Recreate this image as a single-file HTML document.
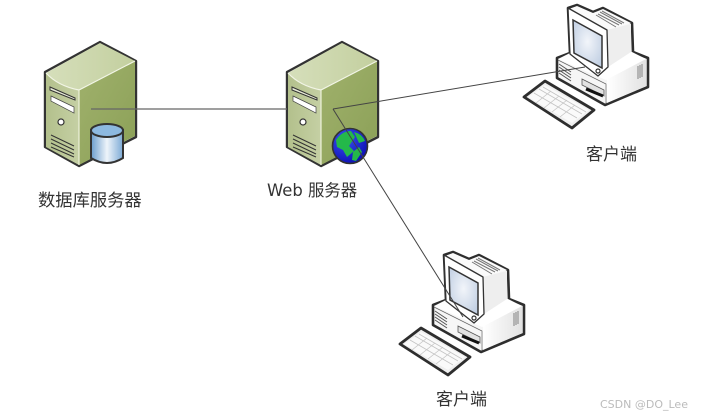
<!DOCTYPE html>
<html><head><meta charset="utf-8"><style>
html,body{margin:0;padding:0;background:#fff;width:703px;height:417px;overflow:hidden}
svg{display:block}
text{font-family:"DejaVu Sans","WenQuanYi Zen Hei","Noto Sans CJK SC",sans-serif;fill:#333}
</style></head><body>
<svg width="703" height="417" viewBox="0 0 703 417" xmlns="http://www.w3.org/2000/svg">
<defs>
<linearGradient id="sf" x1="0" y1="0" x2="1" y2="0"><stop offset="0" stop-color="#b3c08c"/><stop offset="1" stop-color="#c5d0a4"/></linearGradient>
<linearGradient id="ss" x1="0" y1="0" x2="1" y2="1"><stop offset="0" stop-color="#a0b16c"/><stop offset="1" stop-color="#8ba057"/></linearGradient>
<linearGradient id="st" x1="0" y1="0" x2="1" y2="0"><stop offset="0" stop-color="#d6dfbb"/><stop offset="1" stop-color="#c3cf9f"/></linearGradient>
<linearGradient id="db" x1="0" y1="0" x2="1" y2="0"><stop offset="0" stop-color="#6a9dcd"/><stop offset=".5" stop-color="#eef4fa"/><stop offset="1" stop-color="#7ba9d5"/></linearGradient>
<radialGradient id="scr" cx=".5" cy=".45" r=".7"><stop offset="0" stop-color="#f2f5fa"/><stop offset="1" stop-color="#bccbe0"/></radialGradient>
<linearGradient id="base" x1="0" y1="0" x2="1" y2="0"><stop offset="0" stop-color="#fff"/><stop offset="1" stop-color="#e2e2e2"/></linearGradient>
<radialGradient id="globe" cx=".35" cy=".3" r=".8"><stop offset="0" stop-color="#3a50f0"/><stop offset="1" stop-color="#0a0ab0"/></radialGradient>
<g id="server">
<path d="M45 72L100 42L136 61L136 137L79 166L45 147Z" fill="#fff" stroke="#333" stroke-width="2.4" stroke-linejoin="round"/>
<path d="M46 73L100 43L135 61L79 90Q58 86 46 73Z" fill="url(#st)"/>
<path d="M79 90L135 61V136L79 165Z" fill="url(#ss)"/>
<path d="M46 73Q58 86 79 90V165L46 147Z" fill="url(#sf)"/>
<path d="M46 73Q58 86 79 90L135 61" fill="none" stroke="#f2f5e6" stroke-width="1.2"/>
<path d="M79 90V165" stroke="#eef2dc" stroke-width="1.2"/>
<path d="M50 87L75 98V100L50 90Z" fill="#e8ecd8" stroke="#333" stroke-width="1"/>
<path d="M51 96L74 107V113L51 101Z" fill="#fff" stroke="#444" stroke-width=".7"/>
<circle cx="61" cy="122" r="3" fill="#fff" stroke="#333" stroke-width="1.2"/>
<path d="M51 135L74 146M51 139L74 150M51 143L74 154M51 147L74 157" stroke="#333" stroke-width="1" fill="none"/>
</g>
<g id="pc">
<path d="M568 8L577 5L593 12L603 8L632 23L633 52L648 58V87L605 105L557 78V58L570 53Z" fill="#f6f6f6" stroke="#2e2e2e" stroke-width="2.6" stroke-linejoin="round"/>
<path d="M607 103V76L646 59V86Z" fill="url(#base)"/>
<path d="M558 59L606 80L646 59L632 52L570 53Z" fill="#fff"/>
<path d="M607 30L631 24V52L608 67Z" fill="#eee"/>
<path d="M569 9L577 6L593 13L603 9L631 23L607 30Z" fill="#fafafa"/>
<path d="M568 8L607 30L608 67L598 76L570 54Z" fill="#fff" stroke="#333" stroke-width="1.3" stroke-linejoin="round"/>
<path d="M573 20L602 36V68L574 53Z" fill="url(#scr)" stroke="#333" stroke-width="1.5"/>
<path d="M600 12L622 24M598 14L619 25M596 15L616 27M602 11L624 23" stroke="#777" stroke-width="1" fill="none"/>
<circle cx="598" cy="71" r="2" fill="#fff" stroke="#333" stroke-width="1.2"/>
<path d="M559 64L571 72M559 67L571 75M559 70L571 78M559 73L571 81" stroke="#555" stroke-width="1"/>
<path d="M558 60L606 84V104" fill="none" stroke="#666" stroke-width=".7"/>
<path d="M582 79L604 90V96L582 85Z" fill="#e2e2e2" stroke="#555" stroke-width=".8"/>
<path d="M586 89L603 96" stroke="#111" stroke-width="3"/>
<path d="M638 66V79M640 65V78M642 64V77" stroke="#999" stroke-width="1.3"/>
<path d="M524 97L545 81L594 110L572 128Z" fill="#efefef" stroke="#2e2e2e" stroke-width="2.8" stroke-linejoin="round"/>
<path d="M528 97L545 85L589 110L572 123Z" fill="#fafafa"/>
<path d="M534 93L577 118M539 89L582 114M543 87L586 112M536 103L551 91M544 108L559 96M552 112L567 100M560 117L575 105" stroke="#c4c4c4" stroke-width=".8" fill="none"/>
</g>
</defs>
<use href="#server"/>
<use href="#server" x="242"/>
<path d="M91 109H287" stroke="#666" stroke-width="1.2" fill="none"/>
<path d="M91 130V158Q107 168 123 158V130Z" fill="url(#db)" stroke="#333" stroke-width="2"/>
<ellipse cx="107" cy="130.500" rx="16" ry="6.500" fill="#8db9e0" stroke="#333" stroke-width="2"/>
<circle cx="350" cy="146" r="17.500" fill="url(#globe)" stroke="#333" stroke-width="1.6"/>
<path d="M336 140Q342 131 351 131L355 137L349 146L354 151L347 157L343 150L337 147Z" fill="#24b84a"/>
<path d="M354 132Q362 134 365 141L359 143ZM353 152L359 147L362 152L356 161L352 160Z" fill="#24b84a"/>
<use href="#pc"/>
<use href="#pc" x="-124" y="247"/>
<path d="M333 109L585 67" stroke="#444" stroke-width="1" fill="none"/>
<path d="M333 109L463 317" stroke="#444" stroke-width="1" fill="none"/>
<text x="38" y="206" font-size="17.300">数据库服务器</text>
<text x="267" y="196" font-size="16.400">Web 服务器</text>
<text x="586" y="160" font-size="17">客户端</text>
<text x="436" y="405" font-size="17">客户端</text>
<text x="600" y="408" font-size="11" style="fill:#bbb">CSDN @DO_Lee</text>
</svg>
</body></html>
